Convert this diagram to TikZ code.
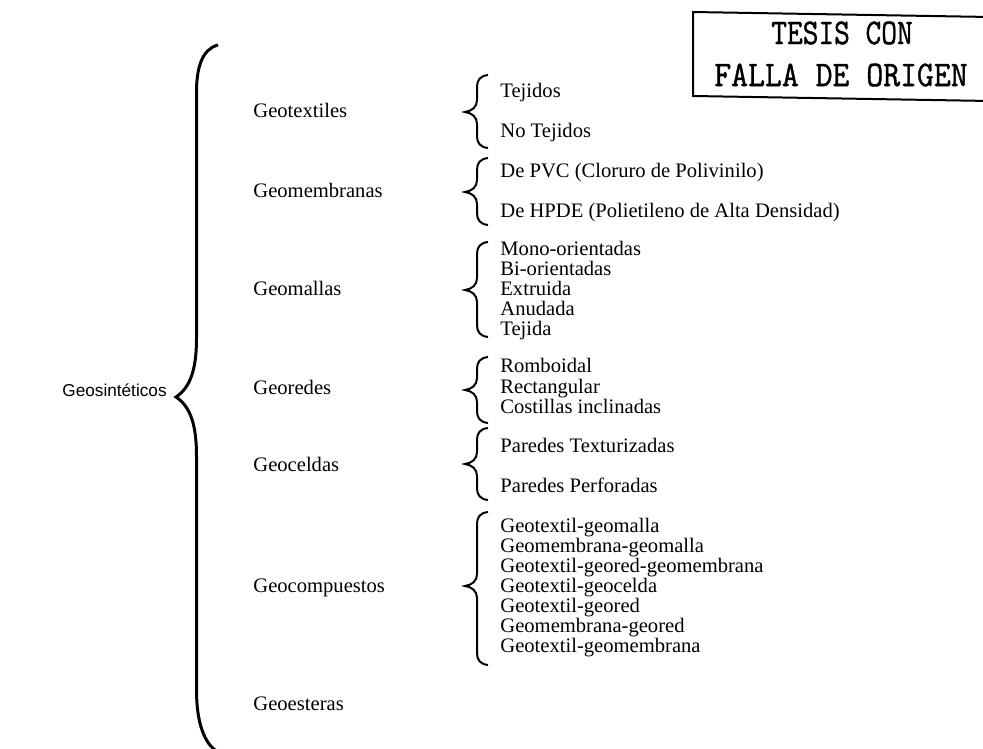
\documentclass[tikz,border=0pt]{standalone}
\usepackage{fontspec}
\setmainfont{Liberation Serif}
\newfontfamily\grpsans{Liberation Sans}
\newfontfamily\stampfont[FakeBold=1.2]{Latin Modern Mono}
\tikzset{
  lvl/.style={anchor=west, inner sep=0pt, text height=1.6ex, text depth=.4ex, font=\fontsize{10.3}{12}\selectfont},
  item/.style={anchor=west, inner sep=0pt, text height=1.6ex, text depth=.4ex, font=\fontsize{10.3}{12}\selectfont},
  stamp/.style={inner sep=0pt, font=\stampfont\fontsize{16.4}{18}\selectfont},
  bigbrace/.style={line width=1.5pt},
  smallbrace/.style={line width=1pt}
}
\begin{document}
\begin{tikzpicture}[x=0.5pt,y=-0.5pt]
			\useasboundingbox (0,0) rectangle (983,748);
			% stamp
			\draw[line width=1pt] (990,17) -- (693,12) -- (693,96) -- (990,101);
			\node[stamp] (tesis) at (842,33) {\scalebox{0.93}[1.1]{TESIS CON}};
			\node[stamp] (falla) at (841,75) {\scalebox{1}[1.1]{FALLA DE ORIGEN}};
			% root
			\node[anchor=west, inner sep=0pt, text height=1.6ex, text depth=.4ex, font=\grpsans\fontsize{8.6}{10}\selectfont] (gsint) at (62,391) {Geosintéticos};
			\draw[bigbrace] (218,45) .. controls (202,49) and (196.5,68) .. (196.5,92) -- (196.5,338)
				.. controls (196.5,368) and (191,387) .. (176,397)
				.. controls (191,407) and (196.5,426) .. (196.5,456) -- (196.5,690)
				.. controls (196.5,722) and (204,744) .. (218,752);
			% families
			\node[lvl] (gtex) at (253,112) {Geotextiles};
			\node[lvl] (gmem) at (253,192) {Geomembranas};
			\node[lvl] (gmal) at (253,290) {Geomallas};
			\node[lvl] (gred) at (253,389) {Georedes};
			\node[lvl] (gcel) at (253,466) {Geoceldas};
			\node[lvl] (gcom) at (253,587) {Geocompuestos};
			\node[lvl] (gest) at (253,705) {Geoesteras};
			% small braces: top/tip/bottom
			\foreach \ya/\yb/\yc in {75/112/148, 158/192/225, 242/290/337, 357/390/423, 428/464/500, 512/586/665}
				\draw[smallbrace] (488,\ya) .. controls (480,\ya+1) and (477,\ya+5) .. (477,\ya+12) -- (477,\yb-12)
					.. controls (477,\yb-5) and (472,\yb-1) .. (465,\yb)
					.. controls (472,\yb+1) and (477,\yb+5) .. (477,\yb+12) -- (477,\yc-12)
					.. controls (477,\yc-5) and (480,\yc-1) .. (488,\yc);
			% types
			\node[item] (tej) at (500,92) {Tejidos};
			\node[item] (notej) at (500,132) {No Tejidos};
			\node[item] (pvc) at (500,172) {De PVC (Cloruro de Polivinilo)};
			\node[item] (hpde) at (500,212) {De HPDE (Polietileno de Alta Densidad)};
			\foreach \t [count=\i] in {Mono-orientadas, Bi-orientadas, Extruida, Anudada, Tejida}
				\node[item] (mal\i) at (500,230+20*\i) {\t};
			\foreach \t [count=\i] in {Romboidal, Rectangular, Costillas inclinadas}
				\node[item] (red\i) at (500,347+20.3*\i) {\t};
			\node[item] (ptex) at (500,447) {Paredes Texturizadas};
			\node[item] (pper) at (500,487) {Paredes Perforadas};
			\foreach \t [count=\i] in {Geotextil-geomalla, Geomembrana-geomalla, Geotextil-geored-geomembrana, Geotextil-geocelda, Geotextil-geored, Geomembrana-geored, Geotextil-geomembrana}
				\node[item] (com\i) at (500,507+20*\i) {\t};
		\end{tikzpicture}
\end{document}
